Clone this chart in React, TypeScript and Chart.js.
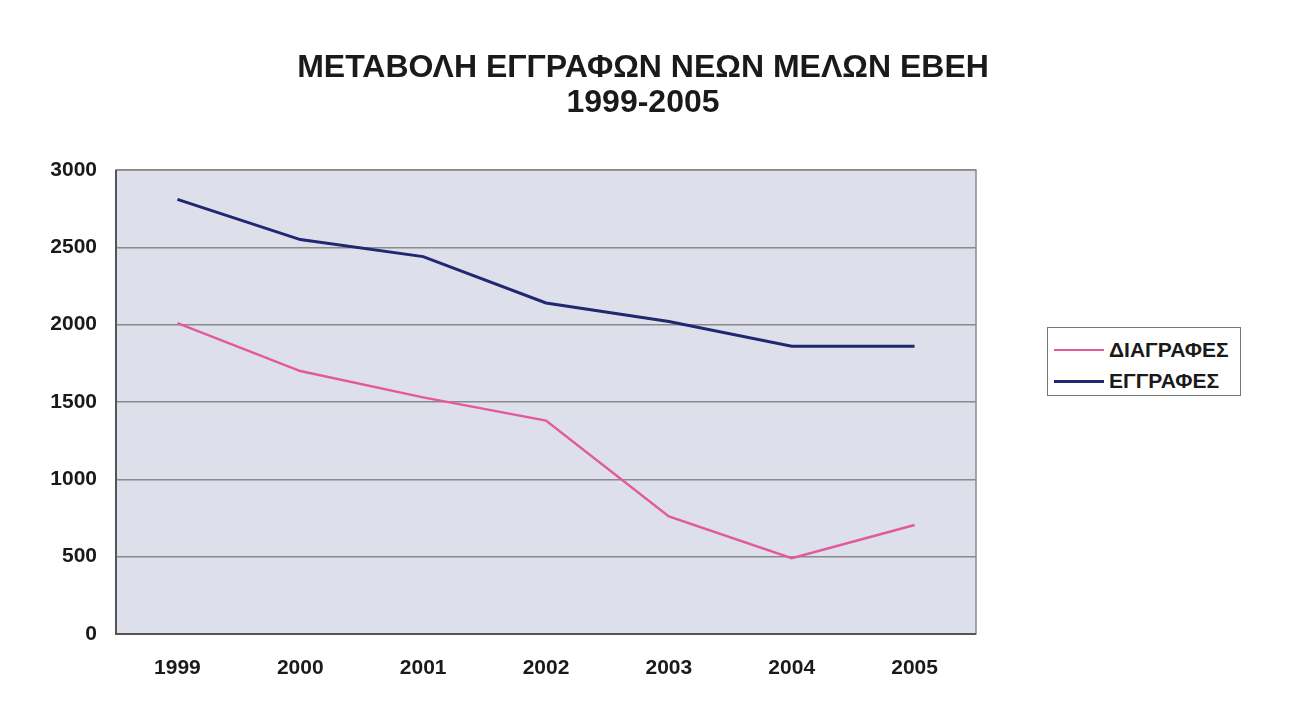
import React, { useEffect, useRef } from "react";
import { Chart, registerables } from "chart.js";

Chart.register(...registerables);

const years = ["1999", "2000", "2001", "2002", "2003", "2004", "2005"];
const diagrafes = [2010, 1700, 1530, 1380, 760, 490, 705];
const eggrafes = [2810, 2550, 2440, 2140, 2020, 1860, 1860];
const yTicks = [0, 500, 1000, 1500, 2000, 2500, 3000];
const titleLines = ["ΜΕΤΑΒΟΛΗ ΕΓΓΡΑΦΩΝ ΝΕΩΝ ΜΕΛΩΝ ΕΒΕΗ", "1999-2005"];
const seriesNames = ["ΔΙΑΓΡΑΦΕΣ", "ΕΓΓΡΑΦΕΣ"];
const seriesColors = ["#e35a9a", "#1f2870"];

const FONT = "Arial, 'Liberation Sans', sans-serif";

const plotBg = {
  id: "plotBg",
  beforeDraw(chart: any) {
    const { ctx, chartArea: a } = chart;
    ctx.save();
    ctx.fillStyle = "#dde0ea";
    ctx.fillRect(a.left, a.top, a.right - a.left, a.bottom - a.top);
    ctx.restore();
  },
  beforeDatasetsDraw(chart: any) {
    const { ctx, chartArea: a } = chart;
    ctx.save();
    ctx.strokeStyle = "#8c8c8c";
    ctx.lineWidth = 1.5;
    ctx.strokeRect(a.left, a.top, a.right - a.left, a.bottom - a.top);
    ctx.strokeStyle = "#555";
    ctx.lineWidth = 2;
    ctx.beginPath();
    ctx.moveTo(a.left, a.top);
    ctx.lineTo(a.left, a.bottom);
    ctx.lineTo(a.right, a.bottom);
    ctx.stroke();
    ctx.restore();
  },
  afterDraw(chart: any) {
    const { ctx } = chart;
    ctx.save();
    ctx.fillStyle = "#1a1a1a";
    ctx.font = `bold 32px ${FONT}`;
    ctx.textAlign = "center";
    ctx.textBaseline = "middle";
    titleLines.forEach((t, i) => ctx.fillText(t, 643, 68 + i * 35));
    ctx.restore();
  },
};

export default function App() {
  const ref = useRef<HTMLCanvasElement | null>(null);
  useEffect(() => {
    document.body.style.margin = "0";
    const chart = new Chart(ref.current as HTMLCanvasElement, {
      type: "line",
      data: {
        labels: years,
        datasets: [
          {
            label: seriesNames[0],
            data: diagrafes,
            borderColor: seriesColors[0],
            backgroundColor: seriesColors[0],
            borderWidth: 2.5,
            pointRadius: 0,
            tension: 0,
          },
          {
            label: seriesNames[1],
            data: eggrafes,
            borderColor: seriesColors[1],
            backgroundColor: seriesColors[1],
            borderWidth: 3,
            pointRadius: 0,
            tension: 0,
          },
        ],
      },
      options: {
        animation: false,
        responsive: false,
        layout: { padding: { left: 0, right: 322, top: 170, bottom: 0 } },
        plugins: {
          legend: { display: false },
          tooltip: { enabled: false },
          title: { display: false },
        },
        scales: {
          x: {
            offset: true,
            grid: { display: false, drawTicks: false },
            border: { display: false },
            ticks: {
              color: "#1a1a1a",
              font: { family: FONT, size: 21, weight: "bold" },
              padding: 22,
              maxRotation: 0,
            },
            afterFit(scale: any) {
              scale.height = 717 - 634;
            },
          },
          y: {
            min: 0,
            max: 3000,
            afterBuildTicks(scale: any) {
              scale.ticks = yTicks.map((v) => ({ value: v }));
            },
            grid: { color: "#8a8a8a", lineWidth: 1.5, drawTicks: false },
            border: { display: false },
            ticks: {
              color: "#1a1a1a",
              font: { family: FONT, size: 21, weight: "bold" },
              padding: 19,
              callback: (v: any) => String(v),
            },
            afterFit(scale: any) {
              scale.width = 116;
            },
          },
        },
      },
      plugins: [plotBg],
    } as any);
    return () => chart.destroy();
  }, []);

  return (
    <div style={{ position: "relative", width: 1298, height: 717, background: "#fff" }}>
      <canvas ref={ref} width={1298} height={717} style={{ display: "block" }} />
      <div
        style={{
          position: "absolute",
          left: 1047,
          top: 327,
          width: 194,
          height: 69,
          border: "1px solid #777",
          background: "#fff",
          fontFamily: FONT,
          fontWeight: "bold",
          fontSize: 21,
          color: "#1a1a1a",
          boxSizing: "border-box",
        }}
      >
        {seriesNames.map((n, i) => (
          <div
            key={n}
            style={{
              position: "absolute",
              left: 6,
              top: i === 0 ? 9 : 40,
              height: 26,
              display: "flex",
              alignItems: "center",
              whiteSpace: "nowrap",
            }}
          >
            <span
              style={{
                display: "inline-block",
                width: 50,
                height: i === 0 ? 2.5 : 3,
                background: seriesColors[i],
                marginRight: 5,
              }}
            />
            <span>{n}</span>
          </div>
        ))}
      </div>
    </div>
  );
}
